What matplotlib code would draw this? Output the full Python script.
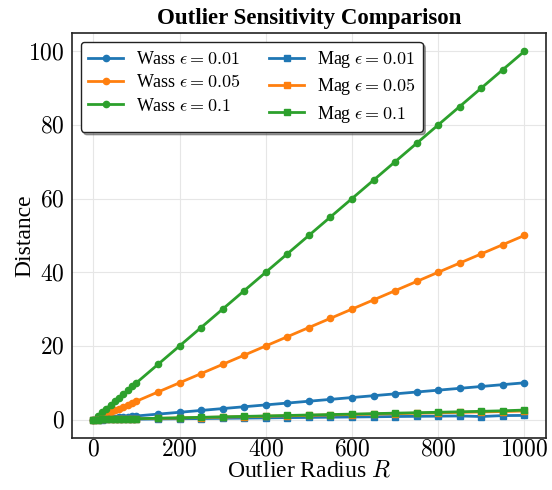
import matplotlib
matplotlib.use("Agg")
import matplotlib.pyplot as plt
from matplotlib.ticker import FuncFormatter

plt.rcParams['font.family'] = ['Liberation Serif', 'DejaVu Serif']
plt.rcParams['mathtext.fontset'] = 'cm'

R = [0, 10, 20, 30, 40, 50, 60, 70, 80, 90, 100,
     150, 200, 250, 300, 350, 400, 450, 500, 550, 600, 650, 700, 750, 800, 850, 900, 950, 1000]

wass_001 = [0.0, 0.1, 0.2, 0.3, 0.4, 0.5, 0.6, 0.7, 0.8, 0.9, 1.0,
            1.5, 2.0, 2.5, 3.0, 3.5, 4.0, 4.5, 5.0, 5.5, 6.0, 6.5, 7.0, 7.5, 8.0, 8.5, 9.0, 9.5, 10.0]
wass_005 = [0.0, 0.5, 1.0, 1.5, 2.0, 2.5, 3.0, 3.5, 4.0, 4.5, 5.0,
            7.5, 10.0, 12.5, 15.0, 17.5, 20.0, 22.5, 25.0, 27.5, 30.0, 32.5, 35.0, 37.5, 40.0, 42.5, 45.0, 47.5, 50.0]
wass_01 = [0.0, 1.0, 2.0, 3.0, 4.0, 5.0, 6.0, 7.0, 8.0, 9.0, 10.0,
           15.0, 20.0, 25.0, 30.0, 35.0, 40.0, 45.0, 50.0, 55.0, 60.0, 65.0, 70.0, 75.0, 80.0, 85.0, 90.0, 95.0, 100.0]
mag_001 = [0.0, 0.01, 0.02, 0.04, 0.05, 0.06, 0.07, 0.08, 0.1, 0.11, 0.12,
           0.18, 0.24, 0.3, 0.36, 0.42, 0.48, 0.55, 0.6, 0.66, 0.72, 0.78, 0.85, 0.9, 0.95, 1.0, 0.85, 1.1, 1.15]
mag_005 = [0.0, 0.02, 0.05, 0.07, 0.09, 0.12, 0.14, 0.16, 0.19, 0.21, 0.23,
           0.35, 0.46, 0.58, 0.7, 0.81, 0.93, 1.04, 1.16, 1.28, 1.39, 1.5, 1.62, 1.74, 1.85, 1.97, 2.08, 2.2, 2.35]
mag_01 = [0.0, 0.03, 0.05, 0.08, 0.1, 0.13, 0.15, 0.18, 0.2, 0.23, 0.26,
          0.38, 0.5, 0.63, 0.76, 0.88, 1.0, 1.13, 1.26, 1.38, 1.5, 1.63, 1.76, 1.88, 2.0, 2.13, 2.26, 2.4, 2.6]

colors = ['#1f77b4', '#ff7f0e', '#2ca02c']
eps_labels = ['0.01', '0.05', '0.1']

fig = plt.figure(figsize=(5.52, 4.90), dpi=100)
ax = fig.add_axes([0.130, 0.106, 0.859, 0.827])

for vals, c, e in zip([wass_001, wass_005, wass_01], colors, eps_labels):
    ax.plot(R, vals, color=c, marker='o', markersize=4.5, linewidth=2,
            label=r'Wass $\epsilon = %s$' % e)
for vals, c, e in zip([mag_001, mag_005, mag_01], colors, eps_labels):
    ax.plot(R, vals, color=c, marker='s', markersize=5, linewidth=2,
            label=r'Mag $\epsilon = %s$' % e)

ax.set_xlim(-50, 1050)
ax.set_ylim(-5, 105)
ax.set_xticks([0, 200, 400, 600, 800, 1000])
ax.set_yticks([0, 20, 40, 60, 80, 100])
fmt = FuncFormatter(lambda v, p: r'$%d$' % int(round(v)))
ax.xaxis.set_major_formatter(fmt)
ax.yaxis.set_major_formatter(fmt)
ax.tick_params(axis='both', labelsize=17, length=0)
ax.tick_params(axis='x', pad=1)
ax.tick_params(axis='y', pad=5)
ax.grid(True, color='#e6e6e6', linewidth=0.8)
ax.set_axisbelow(True)
for s in ax.spines.values():
    s.set_color('#222222')
    s.set_linewidth(1.2)

ax.set_xlabel(r'Outlier Radius $R$', fontsize=17, labelpad=0)
ax.set_ylabel('Distance', fontsize=17, labelpad=-5)
ax.set_title('Outlier Sensitivity Comparison', fontsize=16.5, fontweight='bold', pad=6)

leg = ax.legend(ncol=2, loc='upper left', fontsize=13, frameon=True, fancybox=True,
                shadow=True, edgecolor='#222222', framealpha=1.0,
                columnspacing=1.6, handlelength=1.95, handletextpad=0.7,
                borderaxespad=0.5, labelspacing=0.35)
leg.get_frame().set_linewidth(1.0)

fig.savefig('out.png', dpi=100)
